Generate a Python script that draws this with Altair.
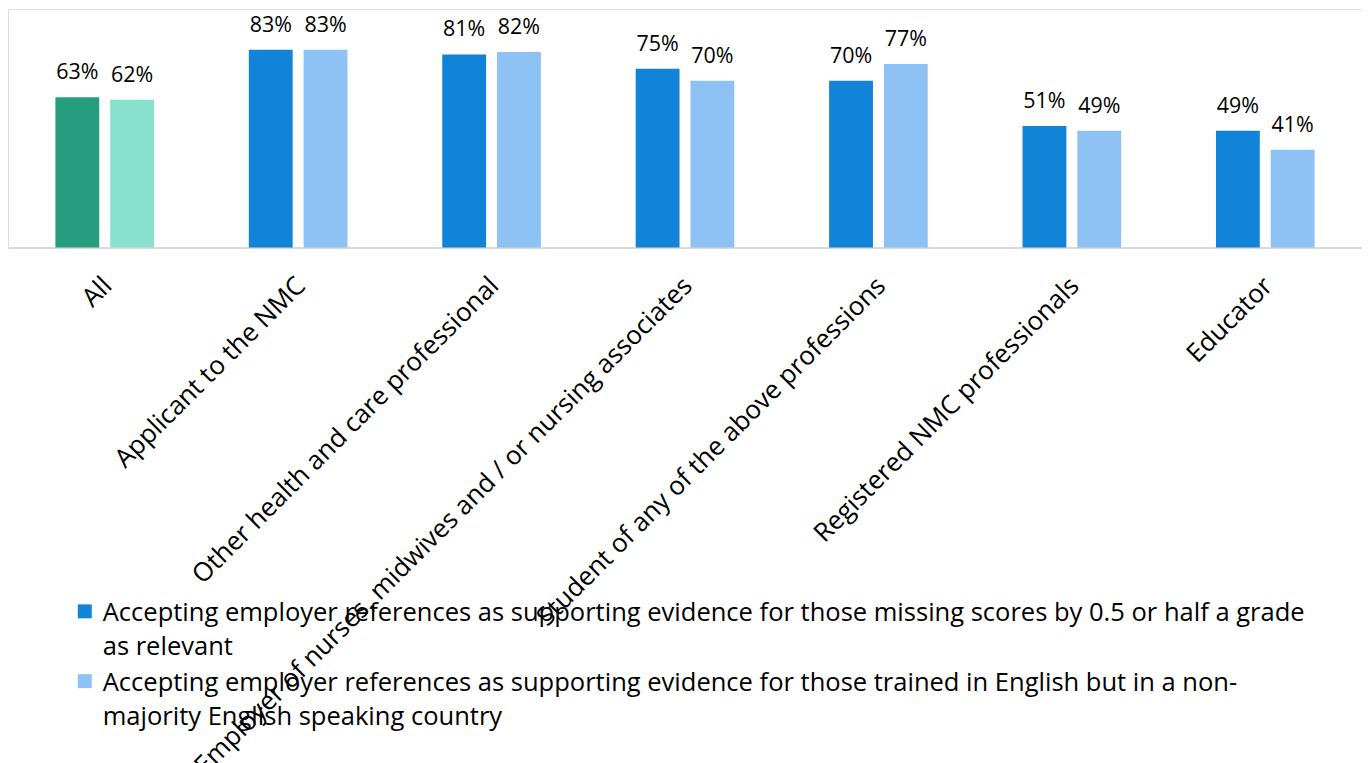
import altair as alt
import pandas as pd

categories = [
    "All",
    "Applicant to the NMC",
    "Other health and care professional",
    "Employer of nurses, midwives and / or nursing associates",
    "Student of any of the above professions",
    "Registered NMC professionals",
    "Educator",
]
series1_values = [63, 83, 81, 75, 70, 51, 49]
series2_values = [62, 83, 82, 70, 77, 49, 41]
legend_labels = [
    "Accepting employer references as supporting evidence for those missing scores by 0.5 or half a grade\nas relevant",
    "Accepting employer references as supporting evidence for those trained in English but in a non-\nmajority English speaking country",
]
color_keys = ["All-1", "All-2", "S1", "S2"]
color_range = ["#279D80", "#88E1CF", "#1184D7", "#8EC1F4"]

rows = []
for c, v1, v2 in zip(categories, series1_values, series2_values):
    for s, v in ((1, v1), (2, v2)):
        key = (f"All-{s}" if c == "All" else f"S{s}")
        rows.append({"category": c, "series": s, "value": v / 100.0,
                     "label": f"{v}%", "ckey": key})
df = pd.DataFrame(rows)

FONT = "Open Sans"

base = alt.Chart(df).encode(
    x=alt.X("category:N", sort=categories,
            scale=alt.Scale(paddingInner=0.49, paddingOuter=0.245),
            axis=alt.Axis(title=None, labelAngle=-45, labelAlign="right",
                          labelBaseline="middle", labelFontSize=26,
                          labelFont=FONT, labelColor="#000000",
                          labelPadding=34, labelOffset=3, labelLimit=0,
                          ticks=False, domainColor="#D9D9D9", domainWidth=2,
                          grid=False)),
    xOffset=alt.XOffset("series:N", scale=alt.Scale(paddingInner=0.2, paddingOuter=0)),
)

bars = base.mark_bar().encode(
    y=alt.Y("value:Q", scale=alt.Scale(domain=[0, 1]), axis=None),
    color=alt.Color("ckey:N", scale=alt.Scale(domain=color_keys, range=color_range),
                    legend=None),
)

texts = base.mark_text(baseline="middle", dy=-24, fontSize=21.5, font=FONT,
                       color="#000000").encode(
    y=alt.Y("value:Q"),
    text="label:N",
)

legend_parts = []
legend_y = [604, 674]
for lab, col, yy in zip(legend_labels, ["#1184D7", "#8EC1F4"], legend_y):
    ld = pd.DataFrame({"t": [lab]})
    sq = alt.Chart(ld).mark_square(size=196, color=col, opacity=1).encode(
        x=alt.value(77), y=alt.value(yy))
    tx = alt.Chart(ld).mark_text(align="left", baseline="alphabetic", fontSize=25.6,
                                 font=FONT, color="#000000", lineBreak="\n",
                                 lineHeight=34).encode(
        x=alt.value(95), y=alt.value(yy + 10), text="t:N")
    legend_parts += [sq, tx]

chart = alt.layer(bars, texts, *legend_parts).properties(
    width=1358, height=239, padding=0
).configure_view(stroke=None).configure(background="white")

chart.save("out.html", embed_options={"renderer": "svg", "actions": False})
